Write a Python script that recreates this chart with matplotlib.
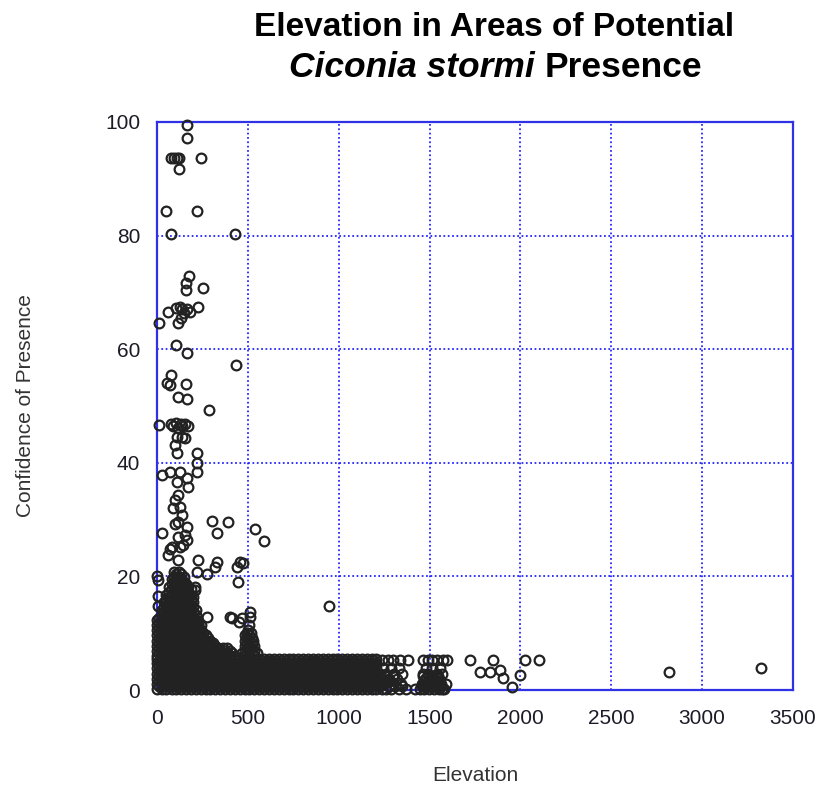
import matplotlib
matplotlib.use("Agg")
from matplotlib import pyplot as plt

plt.rcParams['font.family'] = ['Liberation Sans', 'DejaVu Sans']

# Dense low band (elevation 0-1200 m, confidence 0-5.5), read as staggered rows
band_elev_a = [0, 25, 52, 80, 105, 133, 160, 186, 213, 240, 268, 294, 320, 347, 375, 401,
               428, 455, 482, 508, 535, 562, 590, 616, 643, 670, 697, 724, 750, 778, 805,
               832, 858, 885, 912, 940, 966, 993, 1020, 1047, 1074, 1100, 1128, 1155, 1182, 1208]
band_elev_b = [12, 38, 66, 92, 119, 146, 173, 200, 226, 254, 281, 307, 334, 361, 388, 415,
               441, 468, 495, 522, 549, 576, 603, 630, 657, 683, 710, 737, 764, 791, 818,
               845, 872, 899, 926, 953, 980, 1006, 1033, 1060, 1087, 1114, 1141, 1168, 1196]
band_levels_a = [0.2, 1.1, 2.0, 2.9, 3.8, 4.7, 5.5]
band_levels_b = [0.65, 1.55, 2.45, 3.35, 4.25, 5.1]

# Low-elevation peak: confidence level, lowest and highest elevation of the dark mass
peak_levels = [6.0, 6.45, 6.9, 7.35, 7.8, 8.25, 8.7, 9.15, 9.6, 10.05, 10.5, 10.95, 11.4,
               11.85, 12.3, 12.75, 13.2, 13.65, 14.1, 14.55, 15.0, 15.45, 15.9, 16.35,
               16.8, 17.25, 17.7, 18.15, 18.6, 19.05, 19.5, 19.95, 20.4, 20.85]
peak_lo = [0, 12, 0, 12, 0, 12, 0, 12, 0, 12, 0, 12, 0, 12, 0, 12, 25, 38, 25, 38,
           52, 38, 52, 66, 52, 66, 80, 66, 80, 92, 80, 92, 105, 92]
peak_hi = [428, 415, 401, 388, 320, 307, 294, 281, 268, 254, 240, 226, 240, 226, 213, 200,
           213, 200, 213, 200, 186, 200, 186, 200, 186, 173, 186, 173, 160, 146, 133, 146,
           133, 119]

# Spike of points around 470-550 m
spike_elev = [482, 508, 535, 468, 495, 522, 549, 482, 508, 535, 495, 522, 482, 508, 535,
              495, 522, 482, 508, 530, 495, 522, 482, 508, 495, 520, 500, 505]
spike_conf = [6.0, 6.0, 6.0, 6.45, 6.45, 6.45, 6.45, 6.9, 6.9, 6.9, 7.35, 7.35, 7.8, 7.8,
              7.8, 8.25, 8.25, 8.7, 8.7, 8.7, 9.15, 9.15, 9.6, 9.6, 10.05, 10.05, 10.5, 11.4]

# Thinner tail of the band, 1200-1650 m
tail_levels = [0.2, 0.65, 1.1, 1.55, 2.0, 2.45, 2.9, 3.8, 5.3]
tail_elevs = [
    [1236, 1262, 1290, 1330, 1372, 1420, 1445, 1470, 1497, 1524, 1550, 1566, 1578],
    [1228, 1275, 1310, 1350, 1458, 1482, 1508, 1535, 1560],
    [1222, 1250, 1300, 1345, 1460, 1485, 1510, 1538, 1565, 1590],
    [1240, 1285, 1470, 1495, 1522, 1548],
    [1236, 1275, 1320, 1475, 1500, 1525, 1552],
    [1255, 1298, 1465, 1512, 1545],
    [1228, 1262, 1305, 1350, 1462, 1490, 1540, 1570],
    [1245, 1290, 1330, 1480, 1515, 1555],
    [1236, 1273, 1300, 1335, 1380, 1464, 1490, 1512, 1539, 1575, 1594],
]

# Individually readable points
pts_elev = [167, 167, 75, 92, 108, 122, 240, 123, 50, 222, 77, 429, 176, 158, 158, 255,
            105, 125, 140, 150, 165, 180, 227, 62, 11, 117, 130, 105, 167, 435, 75, 57,
            72, 158, 117, 167, 288, 12, 75, 90, 105, 115, 130, 140, 155, 170, 110, 135,
            154, 99, 108, 218, 218, 218, 26, 72, 127, 163, 108, 172, 117, 99, 127, 90,
            136, 117, 99, 163, 154, 117, 163, 81, 127, 26, 301, 393, 330, 539, 589, 145,
            72, 62, 117, 227, 328, 319, 218, 273, 457, 438, 475, 447, 411, 466, 512, 512,
            948, 7, 7, 7, 0, 273, 227, 209, 209, 402, 453, 1722, 1778, 1833, 1851, 1888,
            1906, 1952, 1998, 2025, 2104, 2820, 3324]
pts_conf = [99.5, 97.1, 93.6, 93.6, 93.6, 93.6, 93.6, 91.7, 84.3, 84.3, 80.2, 80.2, 72.9,
            71.6, 70.4, 70.7, 67.2, 67.5, 67.0, 66.3, 67.0, 66.5, 67.5, 66.6, 64.7, 64.7,
            65.5, 60.8, 59.3, 57.3, 55.5, 54.0, 53.7, 53.9, 51.6, 51.2, 49.3, 46.7, 46.8,
            46.5, 47.0, 46.2, 46.8, 46.4, 46.9, 46.5, 44.5, 44.6, 44.3, 43.1, 41.7, 41.7,
            39.9, 38.4, 37.9, 38.4, 38.4, 37.3, 36.7, 35.8, 34.3, 33.5, 32.3, 32.0, 30.8,
            29.6, 29.3, 28.7, 27.3, 27.0, 26.4, 25.2, 25.2, 27.6, 29.8, 29.6, 27.7, 28.3,
            26.2, 25.5, 24.9, 23.8, 22.9, 22.9, 22.6, 21.7, 20.8, 20.5, 22.6, 21.7, 22.3,
            19.1, 12.6, 12.6, 13.8, 12.9, 14.8, 19.4, 16.5, 14.8, 20.0, 12.9, 11.7, 18.2,
            17.6, 12.8, 12.0, 5.3, 3.2, 3.2, 5.3, 3.5, 2.1, 0.6, 2.6, 5.3, 5.3, 3.2, 3.8]

xs, ys = [], []
for lvl in band_levels_a:
    xs += band_elev_a
    ys += [lvl] * len(band_elev_a)
for lvl in band_levels_b:
    xs += band_elev_b
    ys += [lvl] * len(band_elev_b)
for i, lvl in enumerate(peak_levels):
    row = band_elev_a if i % 2 == 0 else band_elev_b
    row = [e for e in row if peak_lo[i] <= e <= peak_hi[i]]
    xs += row
    ys += [lvl] * len(row)
for lvl, row in zip(tail_levels, tail_elevs):
    xs += row
    ys += [lvl] * len(row)
xs += spike_elev + pts_elev
ys += spike_conf + pts_conf

fig = plt.figure(figsize=(8.18, 7.86), dpi=100)
ax = fig.add_axes([0.1919, 0.1221, 0.7775, 0.7227])

ax.plot(xs, ys, linestyle='none', marker='o', markersize=7.0, markerfacecolor='none',
        markeredgecolor='#222222', markeredgewidth=1.6, clip_on=False, zorder=3)

ax.set_xlim(0, 3500)
ax.set_ylim(0, 100)
ax.set_xticks([0, 500, 1000, 1500, 2000, 2500, 3000, 3500])
ax.set_yticks([0, 20, 40, 60, 80, 100])
ax.grid(True, color='#1a1aff', linestyle=(0, (1, 1.5)), linewidth=1.25)
ax.set_axisbelow(True)
for s in ax.spines.values():
    s.set_color('#3030e6')
    s.set_linewidth(1.6)
ax.tick_params(length=0, labelsize=15, labelcolor='#1c1c28')
ax.tick_params(axis='x', pad=14)
ax.tick_params(axis='y', pad=12)

ax.set_xlabel('Elevation', fontsize=15, color='#333333', va='center')
ax.xaxis.set_label_coords(0.5, -0.150)
ax.set_ylabel('Confidence of Presence', fontsize=15, color='#333333', va='center')
ax.yaxis.set_label_coords(-0.2075, 0.5)

# Two-line title, species name in italics
fig.text(494 / 818, 1 - 36 / 786, 'Elevation in Areas of Potential', fontsize=24,
         fontweight='bold', ha='center', va='baseline')
r = fig.canvas.get_renderer()
y2 = 1 - 77 / 786
t1 = fig.text(0, y2, 'Ciconia stormi', fontsize=25.5, fontweight='bold', fontstyle='italic',
              ha='left', va='baseline')
t2 = fig.text(0, y2, 'Presence', fontsize=25.5, fontweight='bold', ha='left', va='baseline')
w1 = t1.get_window_extent(r).width
w2 = t2.get_window_extent(r).width
gap = 10
x0 = 496 - (w1 + gap + w2) / 2
t1.set_x(x0 / 818)
t2.set_x((x0 + w1 + gap) / 818)

fig.savefig('out.png', dpi=100, facecolor='white')
